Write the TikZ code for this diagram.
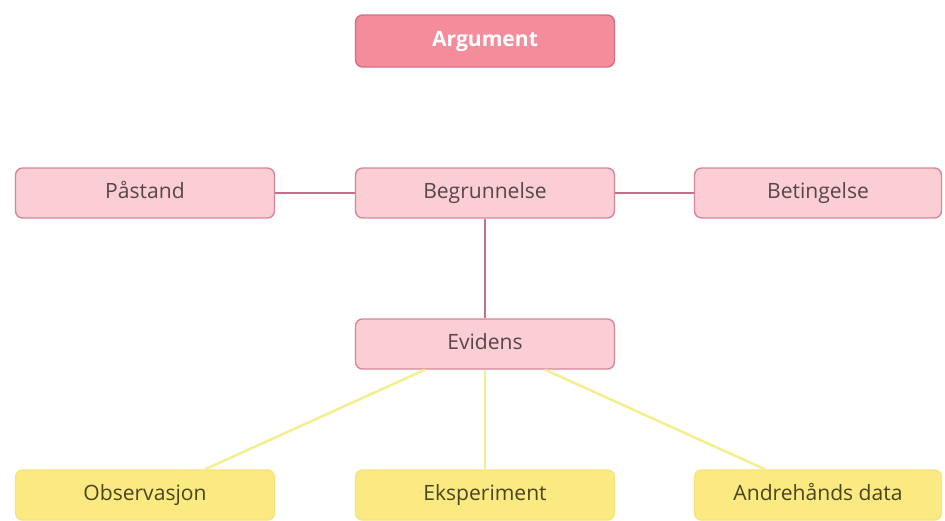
\documentclass[tikz,border=0pt]{standalone}
\usepackage{fontspec}
\setmainfont{Open Sans}
\usepackage{tikz}
\usetikzlibrary{positioning}
\definecolor{ArgPink}{RGB}{244,140,156}
\definecolor{ArgEdge}{RGB}{214,110,130}
\definecolor{BoxPink}{RGB}{250,206,212}
\definecolor{EdgePink}{RGB}{212,135,155}
\definecolor{TxtGray}{RGB}{88,70,74}
\definecolor{BoxYellow}{RGB}{251,234,130}
\definecolor{EdgeYellow}{RGB}{245,228,120}
\definecolor{TxtOlive}{RGB}{74,70,30}
\definecolor{LinkPink}{RGB}{196,112,140}
\definecolor{LinkYellow}{RGB}{244,238,140}

\begin{document}
\begin{tikzpicture}[x=0.02cm, y=-0.02cm,
            top/.style={rectangle, rounded corners=4pt, fill=ArgPink, draw=ArgEdge,
                        line width=0.8pt, minimum width=5.18cm, minimum height=1.04cm,
                        text height=1.6ex, text depth=0.45ex,
                        text=white, font=\large\bfseries, align=center},
            pk/.style={rectangle, rounded corners=4pt, fill=BoxPink, draw=EdgePink,
                       line width=0.8pt, minimum width=5.18cm, minimum height=1.0cm,
                       text height=1.6ex, text depth=0.45ex,
                       text=TxtGray, font=\large, align=center},
            yl/.style={rectangle, rounded corners=4pt, fill=BoxYellow, draw=EdgeYellow,
                       line width=0.8pt, minimum width=5.18cm, minimum height=1.0cm,
                       text height=1.6ex, text depth=0.45ex,
                       text=TxtOlive, font=\large, align=center},
            pl/.style={draw=LinkPink, line width=1pt},
            yln/.style={draw=LinkYellow, line width=1.4pt}
          ]
          \useasboundingbox[fill=white] (0,0) rectangle (945,520);

          % Top
          \node[top] (arg) at (485,41) {Argument};

          % Middle row
          \node[pk] (pas) at (145,193) {Påstand};
          \node[pk] (beg) at (485,193) {Begrunnelse};
          \node[pk, minimum width=4.94cm] (bet) at (818,193) {Betingelse};
          \node[pk] (evi) at (485,344) {Evidens};

          % Bottom row
          \node[yl] (obs) at (145,495) {Observasjon};
          \node[yl] (eks) at (485,495) {Eksperiment};
          \node[yl, minimum width=4.94cm] (and) at (818,495) {Andrehånds data};

          % Links
          \draw[pl] (pas) -- (beg);
          \draw[pl] (beg) -- (bet);
          \draw[pl] (beg) -- (evi);
          \draw[yln] (evi.south) ++(-60,0) coordinate (e1) (e1) -- (obs.north -| 205,0);
          \draw[yln] (evi) -- (eks);
          \draw[yln] (evi.south) ++(60,0) coordinate (e3) (e3) -- (and.north -| 765,0);
        \end{tikzpicture}
\end{document}
